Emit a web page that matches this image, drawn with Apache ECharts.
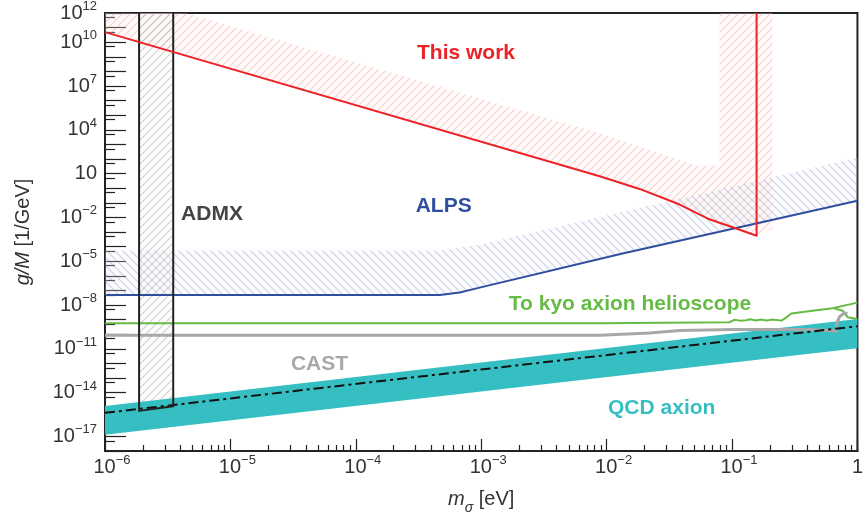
<!DOCTYPE html>
<html><head><meta charset="utf-8">
<script src="https://cdn.jsdelivr.net/npm/echarts@6/dist/echarts.min.js"></script>
<style>html,body{margin:0;padding:0;background:#fff}#c{width:866px;height:520px}</style>
</head><body><div id="c"></div>
<script>
// ---- data: [m_sigma (eV), g/M (1/GeV)] ----
const thisWork = [[1e-6,4.9e10],[8.8e-3,6.6],[1.83e-2,0.89],[3.82e-2,7.6e-2],[6.6e-2,7.4e-3],[0.105,1.9e-3],[0.157,5.5e-4],[0.157,1e12]];
const thisWorkBand = [[1e-6,4.9e10],[8.8e-3,6.6],[1.83e-2,0.89],[3.82e-2,7.6e-2],[6.6e-2,7.4e-3],[0.105,1.9e-3],[0.157,5.5e-4],[0.21,1.6e-3],[0.21,1e12],[0.0794,1e12],[0.0794,36],[0.052,36],[8.8e-3,5.9e3],[4.4e-6,1e12],[1e-6,1e12]];
const alps = [[1e-6,4.8e-8],[4.67e-4,4.8e-8],[6.75e-4,7.1e-8],[9.7e-4,1.55e-7],[1.34e-2,3.4e-5],[1,0.14]];
const alpsBand = [[1e-6,4.8e-8],[4.67e-4,4.8e-8],[6.75e-4,7.1e-8],[9.7e-4,1.55e-7],[1.34e-2,3.4e-5],[1,0.14],[1,124],[9.7e-4,1.36e-4],[4.67e-4,5.4e-5],[1e-6,5.4e-5]];
const admx = [[1.87e-6,1e12],[1.87e-6,5.6e-16],[3.5e-6,1.15e-15],[3.5e-6,1e12]];
const tokyo = [[1e-6,5.7e-10],[8.8e-3,5.7e-10],[0.0955,6.6e-10],[0.105,9.9e-10],[0.115,8.5e-10],[0.13,8.9e-10],[0.14,1.05e-9],[0.155,8.6e-10],[0.17,1.0e-9],[0.19,8.7e-10],[0.21,1.0e-9],[0.248,8.5e-10],[0.272,1.43e-9],[0.298,2.65e-9],[0.393,3.6e-9],[0.633,6.0e-9],[1,1.45e-8]];
const tokyo2 = [[0.656,5.7e-9],[0.764,4.0e-9],[0.838,1.43e-9],[0.863,1.1e-9],[1,1.1e-9]];
const cast = [[1e-6,8.4e-11],[8.8e-3,8.4e-11],[0.022,1.21e-10],[0.0382,1.81e-10],[0.101,2.1e-10],[0.39,2.1e-10],[0.40,2.75e-10],[0.419,2.1e-10],[0.676,1.65e-10],[0.683,5.1e-10],[0.719,1.57e-9],[0.788,2.8e-9],[0.832,2.65e-9]];
const qcdUpper = [[1e-6,1.2e-15],[1,1.1e-9]];
const qcdLower = [[1e-6,1.3e-17],[1,1.07e-11]];
const qcdLine = [[1e-6,4.1e-16],[3.15e-3,1.19e-12],[1,3.5e-10]];
const xLabelExp = [-6,-5,-4,-3,-2,-1,0];
const yLabelExp = [-17,-14,-11,-8,-5,-2,1,4,7,10,12];
const xRange = [1e-6, 1];
const yRange = [1e-18, 1e12];

const lg = Math.log10;
const L = p => [lg(p[0]), lg(p[1])];
const xMin = lg(xRange[0]), xMax = lg(xRange[1]);
const yMin = lg(yRange[0]), yMax = lg(yRange[1]);

const xMajorTicks = [], xMinorTicks = [], yMajorTicks = [], yMinorTicks = [];
for (let n = xMin; n <= xMax; n++) { xMajorTicks.push(n); if (n < xMax) for (let k = 2; k <= 9; k++) xMinorTicks.push(n + lg(k)); }
for (let n = yMin; n <= yMax; n++) { yMajorTicks.push(n); if (n < yMax) yMinorTicks.push(n + lg(5)); }

function hatch(color, bg, dir, s) {
  const c = document.createElement('canvas'); c.width = s; c.height = s;
  const g = c.getContext('2d');
  if (bg) { g.fillStyle = bg; g.fillRect(0, 0, s, s); }
  g.strokeStyle = color; g.lineWidth = 1.1;
  g.beginPath();
  if (dir === '/') {
    g.moveTo(0, s); g.lineTo(s, 0); g.moveTo(-1, 1); g.lineTo(1, -1); g.moveTo(s - 1, s + 1); g.lineTo(s + 1, s - 1);
  } else {
    g.moveTo(0, 0); g.lineTo(s, s); g.moveTo(-1, s - 1); g.lineTo(1, s + 1); g.moveTo(s - 1, -1); g.lineTo(s + 1, 1);
  }
  g.stroke();
  return { image: c, repeat: 'repeat' };
}

function poly(pts, fill, z) {
  const lp = pts.map(L);
  return { type: 'custom', z: z, silent: true, data: [lp[0]],
    renderItem: (params, api) => ({ type: 'polygon', shape: { points: lp.map(p => api.coord(p)) }, style: { fill: fill, stroke: null } }) };
}
function line(pts, color, width, z, type) {
  return { type: 'line', z: z, data: pts.map(L), showSymbol: false, symbol: 'none', silent: true,
    lineStyle: { color: color, width: width, type: type || 'solid', cap: 'butt', join: 'round' } };
}

const expStr = n => (n < 0 ? '\u2212' + (-n) : '' + n);
const yFmt = v => {
  const n = Math.round(v);
  if (n === 0) return '{b|1}';
  if (n === 1) return '{b|10}';
  return '{b|10}{s|' + expStr(n) + '}';
};
const xFmt = v => {
  const n = Math.round(v);
  if (n === 0) return '{b|1}';
  return '{bp|10}{s|' + expStr(n) + '}';
};
const ff = 'Liberation Sans';
const labRich = { b: { fontSize: 20, lineHeight: 26, color: '#333', fontFamily: ff },
                  bp: { fontSize: 20, lineHeight: 26, color: '#333', fontFamily: ff, padding: [0, 0, 0, 14] },
                  s: { fontSize: 13, lineHeight: 14, verticalAlign: 'top', color: '#333', fontFamily: ff } };

const chart = echarts.init(document.getElementById('c'), null, { renderer: 'canvas' });
chart.setOption({
  animation: false,
  backgroundColor: '#fff',
  grid: { show: true, left: 105, right: 8, top: 12, bottom: 60, borderColor: '#222', borderWidth: 2, backgroundColor: 'transparent' },
  xAxis: [
    { type: 'value', min: xMin, max: xMax, position: 'bottom',
      axisLine: { show: true, onZero: false, lineStyle: { color: '#222', width: 2 } },
      axisTick: { show: true, inside: true, length: 12, customValues: xMajorTicks, lineStyle: { color: '#222', width: 1.2 } },
      axisLabel: { show: true, margin: 3, customValues: xLabelExp, formatter: xFmt, rich: labRich, showMinLabel: true, showMaxLabel: true },
      splitLine: { show: false },
      name: '{i|m}{sub|\u03c3} [eV]', nameLocation: 'middle', nameGap: 36,
      nameTextStyle: { fontSize: 20, color: '#333', fontFamily: ff,
        rich: { i: { fontSize: 20, fontStyle: 'italic', color: '#333', fontFamily: ff, lineHeight: 24 },
                sub: { fontSize: 14, fontStyle: 'italic', color: '#333', fontFamily: ff, verticalAlign: 'bottom', lineHeight: 14, padding: [0, 0, -4, 0] } } } },
    { type: 'value', min: xMin, max: xMax, position: 'bottom',
      axisLine: { show: false, onZero: false }, axisLabel: { show: false }, splitLine: { show: false },
      axisTick: { show: true, inside: true, length: 6, customValues: xMinorTicks, lineStyle: { color: '#222', width: 1.2 } } }
  ],
  yAxis: [
    { type: 'value', min: yMin, max: yMax, position: 'left',
      axisLine: { show: true, onZero: false, lineStyle: { color: '#222', width: 2 } },
      axisTick: { show: true, inside: true, length: 21, customValues: yMajorTicks, lineStyle: { color: '#222', width: 1.2 } },
      axisLabel: { show: true, margin: 8, customValues: yLabelExp, formatter: yFmt, rich: labRich, showMinLabel: true, showMaxLabel: true },
      splitLine: { show: false },
      name: '{i|g/M} [1/GeV]', nameLocation: 'middle', nameGap: 72,
      nameTextStyle: { fontSize: 20, color: '#333', fontFamily: ff,
        rich: { i: { fontSize: 20, fontStyle: 'italic', color: '#333', fontFamily: ff } } } },
    { type: 'value', min: yMin, max: yMax, position: 'left',
      axisLine: { show: false, onZero: false }, axisLabel: { show: false }, splitLine: { show: false },
      axisTick: { show: true, inside: true, length: 10, customValues: yMinorTicks, lineStyle: { color: '#222', width: 1.2 } } }
  ],
  series: [
    poly(thisWorkBand, hatch('rgba(240,125,115,0.34)', 'rgba(252,238,236,0.25)', '/', 8), 1),
    poly(alpsBand, hatch('rgba(110,120,180,0.32)', 'rgba(238,240,247,0.25)', '\\', 8), 1),
    poly(admx, hatch('rgba(140,140,140,0.38)', 'rgba(246,246,246,0.3)', '/', 8), 1),
    poly(qcdUpper.concat(qcdLower.slice().reverse()), '#35bfc2', 2),
    line(alps, '#2f4ea0', 2, 5),
    line(tokyo, '#66bb44', 2, 5),
    line(tokyo2, '#66bb44', 2, 5),
    line(cast, '#a8a8a8', 3, 5),
    line(qcdLine, '#111', 2, 6, [10, 4, 3, 4]),
    line(admx, '#222', 2, 7),
    line(thisWork, '#ec2227', 2, 8)
  ],
  graphic: [
    { type: 'text', x: 466, y: 53, z: 100, style: { text: 'This work', align: 'center', verticalAlign: 'middle', fill: '#ec2227', font: 'bold 21px "Liberation Sans"' } },
    { type: 'text', x: 212, y: 214.5, z: 100, style: { text: 'ADMX', align: 'center', verticalAlign: 'middle', fill: '#444', font: 'bold 21px "Liberation Sans"' } },
    { type: 'text', x: 443.7, y: 206.7, z: 100, style: { text: 'ALPS', align: 'center', verticalAlign: 'middle', fill: '#2f4ea0', font: 'bold 21px "Liberation Sans"' } },
    { type: 'text', x: 630, y: 304, z: 100, style: { text: 'To kyo axion helioscope', align: 'center', verticalAlign: 'middle', fill: '#66bb44', font: 'bold 21px "Liberation Sans"' } },
    { type: 'text', x: 319.5, y: 364, z: 100, style: { text: 'CAST', align: 'center', verticalAlign: 'middle', fill: '#a8a8a8', font: 'bold 21px "Liberation Sans"' } },
    { type: 'text', x: 661.7, y: 408.5, z: 100, style: { text: 'QCD axion', align: 'center', verticalAlign: 'middle', fill: '#35bfc2', font: 'bold 21px "Liberation Sans"' } }
  ]
});
</script></body></html>
